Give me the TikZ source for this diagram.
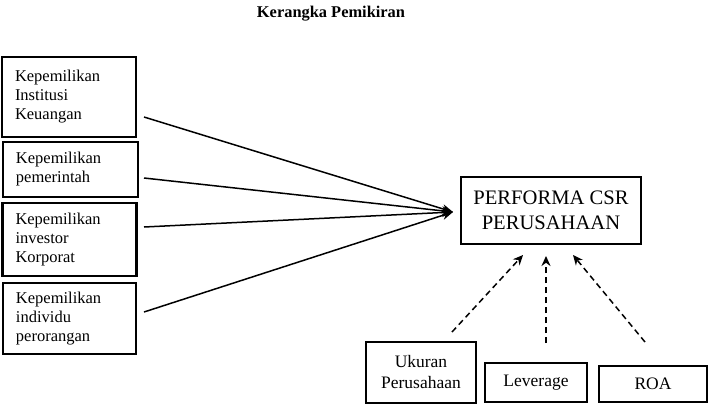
\documentclass[tikz,border=0pt]{standalone}
\usepackage{fontspec}
\setmainfont{Liberation Serif}
\usetikzlibrary{arrows.meta}
\begin{document}
\begin{tikzpicture}[x=1pt,y=-1pt,
  leftbox/.style={draw,line width=2.6pt,inner sep=0pt,font=\fontsize{16.5}{19}\selectfont,align=left},
  botbox/.style={draw,line width=2.6pt,inner sep=0pt,font=\fontsize{17.5}{21}\selectfont,align=center},
  solidarrow/.style={line width=1.5pt,-{Stealth[length=11pt,width=9pt]}},
  dasharrow/.style={line width=1.5pt,dash pattern=on 6pt off 4pt,-{Stealth[length=10pt,width=9pt]}}]
\useasboundingbox (0,0) rectangle (708,405);
\node[font=\bfseries\fontsize{16.4}{19}\selectfont] (title) at (331,14) {Kerangka Pemikiran};
\node[leftbox,minimum width=134pt,minimum height=80pt,text width=108pt] (b1) at (69,97) {Kepemilikan\\Institusi\\Keuangan};
\node[leftbox,minimum width=135pt,minimum height=55pt,text width=109pt] (b2) at (70.5,169.5) {Kepemilikan\\pemerintah};
\node[leftbox,minimum width=134pt,minimum height=73pt,text width=108pt] (b3) at (69.5,239.5) {Kepemilikan\\investor\\Korporat};
\node[leftbox,minimum width=133pt,minimum height=71pt,text width=107pt] (b4) at (69.5,318.5) {Kepemilikan\\individu\\perorangan};
\node[draw,line width=2.6pt,inner sep=0pt,minimum width=180pt,minimum height=67pt,align=center,font=\fontsize{20.6}{25}\selectfont] (csr) at (551,210.5) {PERFORMA CSR\\PERUSAHAAN};
\node[botbox,minimum width=110pt,minimum height=61pt] (uk) at (421,372.5) {Ukuran\\Perusahaan};
\node[botbox,minimum width=102pt,minimum height=39pt] (lev) at (536,382.5) {Leverage};
\node[botbox,minimum width=108pt,minimum height=36pt] (roa) at (653,384) {ROA};
\coordinate (s1) at (144,117);
\coordinate (s2) at (144,178);
\coordinate (s3) at (144,227);
\coordinate (s4) at (144,312);
\coordinate (t) at (453,212);
\draw[solidarrow] (s1) -- (t);
\draw[solidarrow] (s2) -- (t);
\draw[solidarrow] (s3) -- (t);
\draw[solidarrow] (s4) -- (t);
\coordinate (d1) at (452,332);
\coordinate (d2) at (546,343);
\coordinate (d3) at (645,342);
\coordinate (e1) at (523,255);
\coordinate (e2) at (546,256);
\coordinate (e3) at (573,255);
\draw[dasharrow] (d1) -- (e1);
\draw[dasharrow] (d2) -- (e2);
\draw[dasharrow] (d3) -- (e3);
\end{tikzpicture}
\end{document}
